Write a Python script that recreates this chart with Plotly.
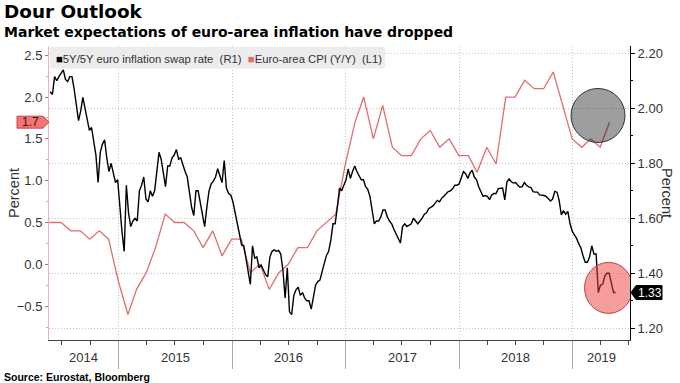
import pandas as pd
import plotly.graph_objects as go

# ---------------- data ----------------
# 5Y/5Y euro inflation swap rate (right axis), weekly readings starting 2014-05-26
swap_start = "2014-05-26"
swap_values = [
    2.06, 2.05, 2.115, 2.10, 2.115, 2.127, 2.14, 2.105, 2.097, 2.115,
    2.115, 2.07, 2.02, 1.955, 1.99, 2.04, 2.00, 1.955, 1.92, 1.93,
    1.88, 1.83, 1.73, 1.84, 1.87, 1.885, 1.82, 1.77, 1.80, 1.76,
    1.73, 1.74, 1.64, 1.55, 1.48, 1.72, 1.62, 1.57, 1.59, 1.60,
    1.59, 1.70, 1.72, 1.75, 1.67, 1.66, 1.70, 1.68, 1.70, 1.78,
    1.84, 1.815, 1.77, 1.715, 1.79, 1.79, 1.82, 1.83, 1.85, 1.815,
    1.82, 1.79, 1.77, 1.75, 1.695, 1.64, 1.61, 1.70, 1.70, 1.655,
    1.62, 1.57, 1.64, 1.70, 1.725, 1.735, 1.75, 1.78, 1.755, 1.73,
    1.81, 1.71, 1.69, 1.685, 1.66, 1.62, 1.58, 1.55, 1.503, 1.50,
    1.45, 1.406, 1.36, 1.50, 1.455, 1.46, 1.42, 1.43, 1.41, 1.395,
    1.388, 1.46, 1.48, 1.485, 1.48, 1.483, 1.47, 1.41, 1.31, 1.42,
    1.26, 1.25, 1.32, 1.34, 1.35, 1.32, 1.33, 1.31, 1.30, 1.30,
    1.27, 1.32, 1.357, 1.37, 1.375, 1.406, 1.44, 1.465, 1.48, 1.52,
    1.58, 1.58, 1.64, 1.71, 1.70, 1.72, 1.74, 1.78, 1.745, 1.77,
    1.79, 1.77, 1.755, 1.74, 1.74, 1.715, 1.705, 1.68, 1.63, 1.58,
    1.59, 1.59, 1.605, 1.63, 1.63, 1.605, 1.59, 1.58, 1.56, 1.545,
    1.53, 1.51, 1.57, 1.58, 1.57, 1.575, 1.58, 1.60, 1.59, 1.58,
    1.59, 1.60, 1.615, 1.62, 1.635, 1.64, 1.645, 1.655, 1.665, 1.66,
    1.673, 1.68, 1.69, 1.697, 1.70, 1.707, 1.72, 1.72, 1.725, 1.75,
    1.77, 1.762, 1.745, 1.765, 1.775, 1.75, 1.74, 1.715, 1.70, 1.68,
    1.683, 1.68, 1.668, 1.685, 1.69, 1.69, 1.708, 1.71, 1.71, 1.667,
    1.733, 1.743, 1.733, 1.728, 1.73, 1.72, 1.713, 1.715, 1.73, 1.72,
    1.714, 1.712, 1.697, 1.695, 1.695, 1.685, 1.685, 1.683, 1.68, 1.672,
    1.663, 1.67, 1.698, 1.695, 1.665, 1.612, 1.628, 1.615, 1.625, 1.58,
    1.553, 1.54, 1.527, 1.508, 1.492, 1.463, 1.44, 1.44, 1.46, 1.50,
    1.47, 1.47, 1.33, 1.357, 1.36, 1.39, 1.40, 1.40, 1.36, 1.33,
    1.33,
]
swap_dates = pd.date_range(swap_start, periods=len(swap_values), freq="7D")

# Euro-area CPI (Y/Y), monthly (left axis)
cpi_months = pd.date_range("2014-04-30", "2019-04-30", freq="ME")
cpi_values = [
    0.5, 0.5, 0.5, 0.4, 0.4, 0.3, 0.4, 0.3, -0.2,              # 2014 Apr-Dec
    -0.6, -0.3, -0.1, 0.2, 0.6, 0.5, 0.5, 0.4, 0.2, 0.4, 0.1, 0.3,  # 2015
    0.3, -0.1, 0.0, -0.3, -0.1, 0.0, 0.2, 0.2, 0.4, 0.5, 0.6, 1.2,  # 2016
    1.7, 2.0, 1.5, 1.9, 1.4, 1.3, 1.3, 1.5, 1.6, 1.4, 1.5, 1.3,     # 2017
    1.3, 1.1, 1.4, 1.2, 2.0, 2.0, 2.2, 2.1, 2.1, 2.3, 1.9, 1.5,     # 2018
    1.4, 1.5, 1.4, 1.7,                                            # 2019
]
year_labels = ["2014", "2015", "2016", "2017", "2018", "2019"]

x_range = ["2014-05-22", "2019-07-05"]
left_range = [-0.9055, 2.611]
right_range = [1.1575, 2.2265]

# ---------------- styling ----------------
FONT = "Liberation Sans"
TFONT = "DejaVu Sans"
RED = "#e26d6d"
GRID = "#c4c4c4"
DOTS = "1px,2px"

fig = go.Figure()
fig.add_trace(go.Scatter(x=cpi_months, y=cpi_values, mode="lines",
                         line=dict(color=RED, width=1.3), yaxis="y",
                         name="Euro-area CPI (Y/Y) (L1)", showlegend=False))
fig.add_trace(go.Scatter(x=swap_dates, y=swap_values, mode="lines",
                         line=dict(color="#000000", width=1.4), yaxis="y2",
                         name="5Y/5Y euro inflation swap rate (R1)", showlegend=False))

fig.update_layout(
    width=680, height=383,
    margin=dict(l=49, r=50, t=46, b=43),
    paper_bgcolor="white", plot_bgcolor="white",
    font=dict(family=FONT, size=12, color="#333"),
    xaxis=dict(type="date", range=x_range, showgrid=True, gridcolor=GRID,
               griddash=DOTS, gridwidth=1, dtick="M12", tick0="2014-01-01",
               ticks="outside", ticklen=28, tickcolor="#aaaaaa", tickwidth=1,
               showticklabels=False, showline=True, linecolor="#444",
               zeroline=False,
               minor=dict(dtick="M3", tick0="2014-01-01", ticks="outside",
                          ticklen=4, tickcolor="#444", showgrid=False)),
    yaxis=dict(range=left_range, dtick=0.5, tick0=0, tickformat=".1f",
               ticks="outside", ticklen=3, tickcolor="#e06060",
               showline=True, linecolor="#f2b0b0", showgrid=False,
               zeroline=False, tickfont=dict(size=13, color="#333"),
               minor=dict(dtick=0.25, tick0=0, ticks="outside", ticklen=2,
                          tickcolor="#e9a0a0", showgrid=False)),
    yaxis2=dict(range=right_range, overlaying="y", side="right", dtick=0.2,
                tick0=0, tickformat=".2f", ticks="outside", ticklen=4,
                tickcolor="#000", showline=True, linecolor="#000",
                showgrid=True, gridcolor=GRID, griddash=DOTS, zeroline=False,
                tickfont=dict(size=13, color="#333"),
                minor=dict(dtick=0.1, tick0=0, ticks="outside", ticklen=2,
                           tickcolor="#000", showgrid=False)),
)

shapes = []
# legend band
shapes.append(dict(type="rect", xref="paper", yref="paper", xsizemode="pixel",
                   ysizemode="pixel", xanchor=0, yanchor=1, x0=1, x1=336,
                   y0=-1, y1=-22.5, fillcolor="#ececec", line=dict(width=0),
                   layer="above"))
# highlight circles
shapes.append(dict(type="circle", xref="x", yref="y", xsizemode="pixel",
                   ysizemode="pixel", xanchor="2019-03-24", yanchor=1.78,
                   x0=-27, x1=27, y0=-27, y1=27,
                   fillcolor="rgba(0,0,0,0.38)", line=dict(color="#333", width=1),
                   layer="above"))
shapes.append(dict(type="circle", xref="x", yref="y2", xsizemode="pixel",
                   ysizemode="pixel", xanchor="2019-04-27", yanchor=1.347,
                   x0=-24, x1=24, y0=-25.5, y1=25.5,
                   fillcolor="rgba(238,60,60,0.5)", line=dict(color="#c04040", width=1),
                   layer="above"))
# last-value tags
shapes.append(dict(type="path", xref="paper", yref="y", xsizemode="pixel",
                   ysizemode="pixel", xanchor=0, yanchor=cpi_values[-1],
                   path="M -32,-6 L -6,-6 L 0,0 L -6,6 L -32,6 Z",
                   fillcolor="#f27474", line=dict(color="#c84848", width=1)))
shapes.append(dict(type="path", xref="paper", yref="y2", xsizemode="pixel",
                   ysizemode="pixel", xanchor=1, yanchor=swap_values[-1],
                   path="M 1,0 L 6,-7 L 32,-7 L 32,7 L 6,7 Z",
                   fillcolor="#000", line=dict(color="#000", width=1)))
fig.update_layout(shapes=shapes)

ann = []
NB = "\u00a0"
legend_text = ('<span style="color:#000">■</span>5Y/5Y euro inflation swap rate'
               + NB * 2 + '(R1)' + NB * 2 +
               f'<span style="color:{RED}">■</span>Euro-area CPI (Y/Y)' + NB * 2 + '(L1)')
ann.append(dict(text=legend_text, xref="paper", yref="paper", x=0, y=1,
                xanchor="left", yanchor="top", xshift=5, yshift=-5,
                showarrow=False, font=dict(family=FONT, size=11.3, color="#333")))
ann.append(dict(text="1.7", xref="paper", yref="y", x=0, y=cpi_values[-1],
                xanchor="right", xshift=-8, showarrow=False,
                font=dict(family=FONT, size=12, color="#4a1010")))
ann.append(dict(text=f"{swap_values[-1]:.2f}", xref="paper", yref="y2", x=1,
                y=swap_values[-1], xanchor="left", xshift=6, showarrow=False,
                font=dict(family=FONT, size=12, color="#fff")))
# year labels centred on visible part of each year
x0r, x1r = pd.Timestamp(x_range[0]), pd.Timestamp(x_range[1])
for yl in year_labels:
    a = max(pd.Timestamp(f"{yl}-01-01"), x0r)
    b = min(pd.Timestamp(f"{int(yl)+1}-01-01"), x1r)
    mid = a + (b - a) / 2
    ann.append(dict(text=yl, xref="x", yref="paper", x=mid, y=0, yanchor="top",
                    yshift=-8, showarrow=False,
                    font=dict(family=FONT, size=13, color="#333")))
# axis titles
ann.append(dict(text="Percent", xref="paper", yref="paper", x=0, y=0.5,
                xshift=-45, yshift=0, textangle=-90, showarrow=False,
                font=dict(family=FONT, size=14.5, color="#333")))
ann.append(dict(text="Percent", xref="paper", yref="paper", x=1, y=0.5,
                xshift=47, yshift=0, textangle=90, showarrow=False,
                font=dict(family=FONT, size=14.5, color="#333")))
# titles & source
ann.append(dict(text="<b>Dour Outlook</b>", xref="paper", yref="paper",
                x=0, y=1, xanchor="left", yanchor="top", xshift=-47, yshift=47,
                showarrow=False, font=dict(family=TFONT, size=18.4, color="#000")))
ann.append(dict(text="<b>Market expectations of euro-area inflation have dropped</b>",
                xref="paper", yref="paper", x=0, y=1, xanchor="left",
                yanchor="top", xshift=-47, yshift=24, showarrow=False,
                font=dict(family=TFONT, size=14, color="#000")))
ann.append(dict(text="<b>Source: Eurostat, Bloomberg</b>", xref="paper",
                yref="paper", x=0, y=0, xanchor="left", yanchor="top",
                xshift=-47, yshift=-29, showarrow=False,
                font=dict(family=FONT, size=10.5, color="#000")))
fig.update_layout(annotations=ann)

fig.write_html("out.html", config={"displayModeBar": False},
               post_script="document.body.style.margin='0';document.body.style.padding='0';")
